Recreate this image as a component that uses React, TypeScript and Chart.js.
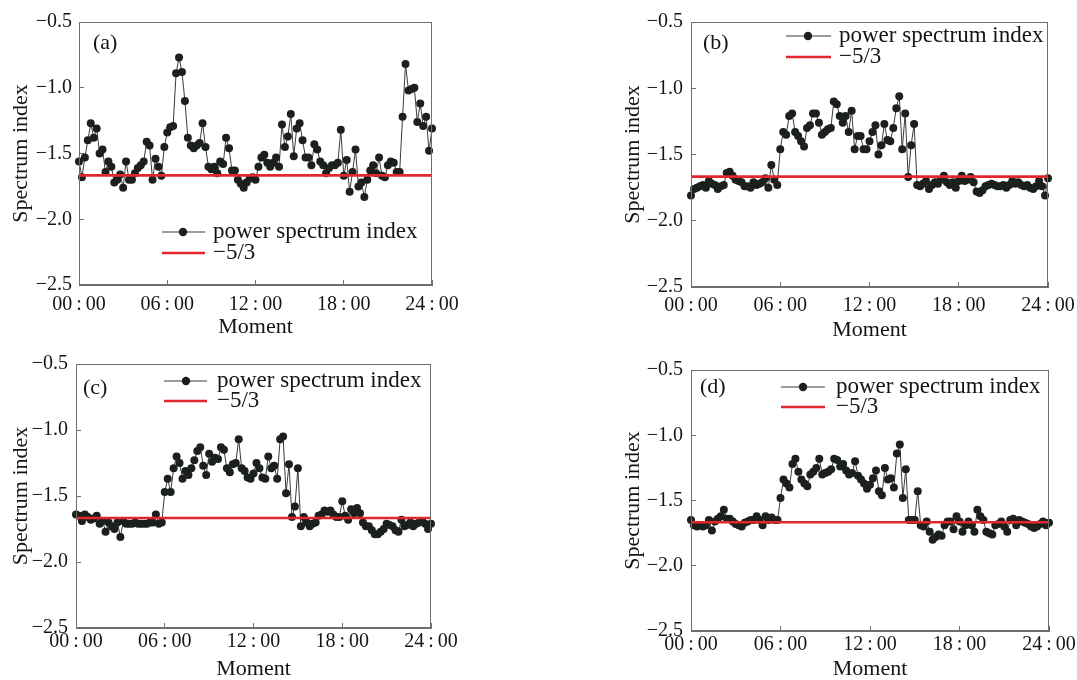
import React, { useEffect, useRef } from "react";
import { Chart, registerables } from "chart.js";

Chart.register(...registerables);

// ---- categories: observation moments every 12 minutes over one day ----
const STEP_MINUTES = 12;
const MOMENTS: string[] = [];
for (let m = 0; m <= 24 * 60; m += STEP_MINUTES) {
  const h = Math.floor(m / 60);
  const mm = m % 60;
  MOMENTS.push(`${String(h).padStart(2, "0")}:${String(mm).padStart(2, "0")}`);
}
const X_TICK_LABELS = ["00:00", "06:00", "12:00", "18:00", "24:00"];
const Y_MIN = -2.5;
const Y_MAX = -0.5;
const Y_STEP = 0.5;
const KOLMOGOROV = -5 / 3;

const SERIES_LABEL = "power spectrum index";
const REF_LABEL = "\u22125/3";

// ---- series values ----
const SERIES_A = [
  -1.56, -1.68, -1.53, -1.40, -1.27, -1.38, -1.31, -1.50, -1.47, -1.64,
  -1.56, -1.60, -1.72, -1.70, -1.66, -1.76, -1.56, -1.70, -1.70, -1.65,
  -1.61, -1.59, -1.56, -1.41, -1.44, -1.70, -1.54, -1.60, -1.67, -1.45,
  -1.34, -1.30, -1.29, -0.89, -0.77, -0.88, -1.10, -1.38, -1.44, -1.46,
  -1.44, -1.42, -1.27, -1.45, -1.60, -1.62, -1.60, -1.65, -1.56, -1.58,
  -1.38, -1.46, -1.63, -1.63, -1.70, -1.73, -1.76, -1.72, -1.69,
  -1.68, -1.70, -1.60, -1.53, -1.51, -1.57, -1.60, -1.57, -1.53, -1.60,
  -1.28, -1.45, -1.37, -1.20, -1.52, -1.31, -1.27, -1.40, -1.53, -1.53,
  -1.59, -1.43, -1.47, -1.56, -1.59, -1.65, -1.61, -1.59, -1.59, -1.57,
  -1.32, -1.67, -1.55, -1.79, -1.64, -1.47, -1.75, -1.72, -1.83, -1.70,
  -1.63, -1.59, -1.65, -1.53, -1.67, -1.68, -1.59, -1.56, -1.57, -1.64,
  -1.64, -1.22, -0.82, -1.02, -1.01, -1.00, -1.26, -1.12, -1.29, -1.22,
  -1.48, -1.31,
];

const SERIES_B = [
  -1.81, -1.76, -1.75, -1.74, -1.73, -1.75, -1.70, -1.72, -1.73, -1.76,
  -1.74, -1.73, -1.64, -1.63, -1.66, -1.69, -1.70, -1.71, -1.74, -1.74,
  -1.75, -1.71, -1.73, -1.72, -1.71, -1.68, -1.75, -1.58, -1.69, -1.73,
  -1.46, -1.33, -1.35, -1.21, -1.19, -1.33, -1.36, -1.40, -1.44, -1.30,
  -1.28, -1.19, -1.19, -1.26, -1.35, -1.33, -1.31, -1.30, -1.10, -1.12,
  -1.21, -1.26, -1.21, -1.33, -1.17, -1.46, -1.36,
  -1.36, -1.46, -1.46, -1.40, -1.33, -1.28, -1.50, -1.43, -1.27, -1.39,
  -1.40, -1.30, -1.15, -1.06, -1.46, -1.19, -1.67, -1.43, -1.27, -1.73,
  -1.74, -1.72, -1.70, -1.76, -1.73, -1.71, -1.72, -1.69, -1.66, -1.71,
  -1.73, -1.71, -1.75, -1.70, -1.66, -1.70, -1.69, -1.67, -1.71, -1.78,
  -1.79, -1.77, -1.74, -1.73, -1.72, -1.73, -1.74, -1.74, -1.73, -1.75,
  -1.73, -1.70, -1.72, -1.71, -1.73, -1.74, -1.73, -1.75, -1.76, -1.74,
  -1.70, -1.74, -1.81, -1.68,
];

const SERIES_C = [
  -1.64, -1.65, -1.69, -1.64, -1.66, -1.68, -1.67, -1.65, -1.71, -1.69,
  -1.77, -1.70, -1.73, -1.75, -1.70, -1.81, -1.69, -1.71, -1.71, -1.71,
  -1.70, -1.71, -1.71, -1.71, -1.71, -1.70, -1.70, -1.64, -1.71, -1.70,
  -1.47, -1.37, -1.47, -1.29, -1.20, -1.25, -1.37, -1.31, -1.34, -1.29,
  -1.23, -1.16, -1.13, -1.27, -1.34, -1.18, -1.24, -1.21, -1.22, -1.13,
  -1.15, -1.29, -1.32, -1.26, -1.25, -1.07, -1.29, -1.31, -1.36, -1.37,
  -1.33, -1.25, -1.29, -1.36, -1.37, -1.20, -1.29, -1.27, -1.37, -1.07,
  -1.05,
  -1.48, -1.26, -1.66, -1.58, -1.29, -1.73, -1.66, -1.70, -1.73, -1.71,
  -1.70, -1.65, -1.64, -1.61, -1.62, -1.61, -1.64, -1.66, -1.66, -1.54,
  -1.65, -1.68, -1.60, -1.63, -1.59, -1.63, -1.70, -1.73, -1.73, -1.76,
  -1.79, -1.79, -1.77, -1.75, -1.71, -1.72, -1.73, -1.76, -1.77, -1.68,
  -1.73, -1.72, -1.70, -1.73, -1.71, -1.70, -1.69, -1.71, -1.75, -1.71,
];

const SERIES_D = [
  -1.65, -1.69, -1.70, -1.69, -1.70, -1.69, -1.65, -1.73, -1.66, -1.64,
  -1.62, -1.57, -1.64, -1.64, -1.66, -1.68, -1.69, -1.70, -1.67, -1.66,
  -1.65, -1.65, -1.62, -1.65, -1.69, -1.62, -1.65, -1.63, -1.65, -1.65,
  -1.48, -1.34, -1.37, -1.40, -1.22, -1.18, -1.28, -1.34, -1.37, -1.39,
  -1.30, -1.28, -1.25, -1.18, -1.30, -1.29, -1.28, -1.26, -1.18, -1.19,
  -1.24, -1.22, -1.27, -1.30, -1.29, -1.20, -1.31, -1.34, -1.37, -1.41,
  -1.38, -1.33, -1.27, -1.43, -1.46, -1.25, -1.34, -1.33, -1.40, -1.14,
  -1.07,
  -1.48, -1.26, -1.65, -1.65, -1.65, -1.43, -1.69, -1.70, -1.66, -1.74,
  -1.80, -1.78, -1.76, -1.77, -1.69, -1.66, -1.66, -1.72, -1.62, -1.66,
  -1.74, -1.69, -1.66, -1.69, -1.74, -1.57, -1.62, -1.65, -1.74, -1.75,
  -1.76, -1.69, -1.68, -1.66, -1.70, -1.74, -1.65, -1.64, -1.69, -1.65,
  -1.66, -1.67, -1.68, -1.70, -1.71, -1.70, -1.68, -1.66, -1.69, -1.67,
];

// ---- styles ----
const FONT = '"Liberation Serif", "DejaVu Serif", serif';
const TEXT = "#141414";
const AXIS = "#6e6e6e";
const MARKER = "#1c201d";
const LINE = "#3a3a3a";
const RED = "#e1262d";

type Panel = {
  tag: string;
  values: number[];
  box: { left: number; top: number; width: number; height: number };
  yAxisW: number;
  xAxisH: number;
  padTop: number;
  padRight: number;
  yTickPad: number;
  xTickPad: number;
  yTitlePad: number;
  xTitlePad: number;
  tagPos: [number, number];
  legend: { x0: number; x1: number; mx: number; tx: number; y1: number; y2: number };
};

const PANELS: Panel[] = [
  {
    tag: "(a)", values: SERIES_A,
    box: { left: 0, top: 0, width: 460, height: 346 },
    yAxisW: 79, xAxisH: 61, padTop: 22, padRight: 28,
    yTickPad: 12, xTickPad: 13, yTitlePad: 8, xTitlePad: 6,
    tagPos: [14, 21],
    legend: { x0: 83, x1: 126, mx: 104, tx: 134, y1: 210, y2: 231 },
  },
  {
    tag: "(b)", values: SERIES_B,
    box: { left: 600, top: 0, width: 477, height: 346 },
    yAxisW: 91, xAxisH: 59, padTop: 22, padRight: 29,
    yTickPad: 13, xTickPad: 12, yTitlePad: 20, xTitlePad: 3,
    tagPos: [12, 21],
    legend: { x0: 95, x1: 140, mx: 117, tx: 148, y1: 14, y2: 35 },
  },
  {
    tag: "(c)", values: SERIES_C,
    box: { left: 0, top: 334, width: 460, height: 356 },
    yAxisW: 76, xAxisH: 62, padTop: 30, padRight: 29,
    yTickPad: 13, xTickPad: 7, yTitlePad: 8, xTitlePad: 8,
    tagPos: [7, 24],
    legend: { x0: 88, x1: 131, mx: 110, tx: 141, y1: 17, y2: 37 },
  },
  {
    tag: "(d)", values: SERIES_D,
    box: { left: 600, top: 334, width: 477, height: 356 },
    yAxisW: 91, xAxisH: 59, padTop: 36, padRight: 28,
    yTickPad: 13, xTickPad: 7, yTitlePad: 20, xTitlePad: 8,
    tagPos: [9, 17],
    legend: { x0: 90, x1: 134, mx: 112, tx: 145, y1: 17, y2: 37 },
  },
];

const framePlugin = {
  id: "frame",
  afterDraw(chart: any) {
    const p: Panel = chart.options.plugins.frame.panel;
    const { ctx, chartArea: a } = chart;
    ctx.save();
    ctx.strokeStyle = AXIS;
    ctx.lineWidth = 1;
    ctx.strokeRect(Math.round(a.left) + 0.5, Math.round(a.top) + 0.5,
      Math.round(a.right - a.left) - 1, Math.round(a.bottom - a.top) - 1);

    ctx.fillStyle = TEXT;
    ctx.textAlign = "left";
    ctx.textBaseline = "middle";
    ctx.font = `22px ${FONT}`;
    ctx.fillText(p.tag, a.left + p.tagPos[0], a.top + p.tagPos[1]);

    const ds = chart.data.datasets;
    const L = p.legend;
    // series entry
    ctx.strokeStyle = LINE;
    ctx.lineWidth = 1.2;
    ctx.beginPath();
    ctx.moveTo(a.left + L.x0, a.top + L.y1);
    ctx.lineTo(a.left + L.x1, a.top + L.y1);
    ctx.stroke();
    ctx.fillStyle = MARKER;
    ctx.beginPath();
    ctx.arc(a.left + L.mx, a.top + L.y1, 4.2, 0, Math.PI * 2);
    ctx.fill();
    // reference entry
    ctx.strokeStyle = RED;
    ctx.lineWidth = 2.6;
    ctx.beginPath();
    ctx.moveTo(a.left + L.x0, a.top + L.y2);
    ctx.lineTo(a.left + L.x1, a.top + L.y2);
    ctx.stroke();

    ctx.fillStyle = TEXT;
    ctx.font = `23px ${FONT}`;
    ctx.fillText(ds[1].label, a.left + L.tx, a.top + L.y1);
    ctx.fillText(ds[0].label, a.left + L.tx, a.top + L.y2);
    ctx.restore();
  },
};

function SpectrumPanel({ p }: { p: Panel }) {
  const ref = useRef<HTMLCanvasElement | null>(null);

  useEffect(() => {
    if (!ref.current) return;
    const tickFont = { family: FONT, size: 20 };
    const titleFont = { family: FONT, size: 22 };
    const chart = new Chart(ref.current, {
      type: "line",
      data: {
        labels: MOMENTS,
        datasets: [
          {
            label: REF_LABEL,
            data: [
              { x: MOMENTS[0], y: KOLMOGOROV },
              { x: MOMENTS[MOMENTS.length - 1], y: KOLMOGOROV },
            ] as any,
            borderColor: RED,
            borderWidth: 2.6,
            pointRadius: 0,
            order: 0,
          },
          {
            label: SERIES_LABEL,
            data: p.values,
            borderColor: LINE,
            borderWidth: 1,
            pointRadius: 4,
            pointBackgroundColor: MARKER,
            pointBorderColor: MARKER,
            pointBorderWidth: 0,
            tension: 0,
            clip: false as any,
            order: 1,
          },
        ],
      },
      options: {
        responsive: false,
        maintainAspectRatio: false,
        animation: false,
        events: [],
        layout: { padding: { top: p.padTop, right: p.padRight, left: 0, bottom: 0 } },
        plugins: {
          legend: { display: false },
          tooltip: { enabled: false },
          frame: { panel: p },
        } as any,
        scales: {
          x: {
            type: "category",
            offset: false,
            border: { display: true, color: AXIS },
            grid: { drawOnChartArea: false, drawTicks: true, tickLength: -5, color: AXIS },
            ticks: {
              autoSkip: false,
              maxRotation: 0,
              minRotation: 0,
              padding: p.xTickPad,
              color: TEXT,
              font: tickFont,
              callback: (value: any) => {
                const lab = MOMENTS[value as number];
                return X_TICK_LABELS.includes(lab) ? lab.replace(":", "\u2009:\u2009") : null;
              },
            },
            title: {
              display: true,
              text: "Moment",
              color: TEXT,
              font: titleFont,
              padding: { top: 0, bottom: p.xTitlePad },
            },
            afterFit: (s: any) => {
              s.height = p.xAxisH;
              s.paddingLeft = 0;
              s.paddingRight = 0;
            },
          },
          y: {
            type: "linear",
            min: Y_MIN,
            max: Y_MAX,
            border: { display: true, color: AXIS },
            grid: { drawOnChartArea: false, drawTicks: true, tickLength: -5, color: AXIS },
            ticks: {
              stepSize: Y_STEP,
              padding: p.yTickPad,
              color: TEXT,
              font: tickFont,
              callback: (v: any) => (Number(v) < 0 ? "\u2212" : "") + Math.abs(Number(v)).toFixed(1),
            },
            title: {
              display: true,
              text: "Spectrum index",
              color: TEXT,
              font: titleFont,
              padding: { top: p.yTitlePad, bottom: 0 },
            },
            afterFit: (s: any) => {
              s.width = p.yAxisW;
              s.paddingTop = 0;
              s.paddingBottom = 0;
            },
          },
        },
      },
      plugins: [framePlugin as any],
    });
    return () => chart.destroy();
  }, [p]);

  return (
    <canvas
      ref={ref}
      width={p.box.width}
      height={p.box.height}
      style={{
        position: "absolute",
        left: p.box.left,
        top: p.box.top,
        width: p.box.width,
        height: p.box.height,
      }}
    />
  );
}

export default function App() {
  return (
    <div
      style={{
        position: "fixed",
        left: 0,
        top: 0,
        width: 1077,
        height: 680,
        overflow: "hidden",
        background: "#ffffff",
      }}
    >
      {PANELS.map((p) => (
        <SpectrumPanel key={p.tag} p={p} />
      ))}
    </div>
  );
}
